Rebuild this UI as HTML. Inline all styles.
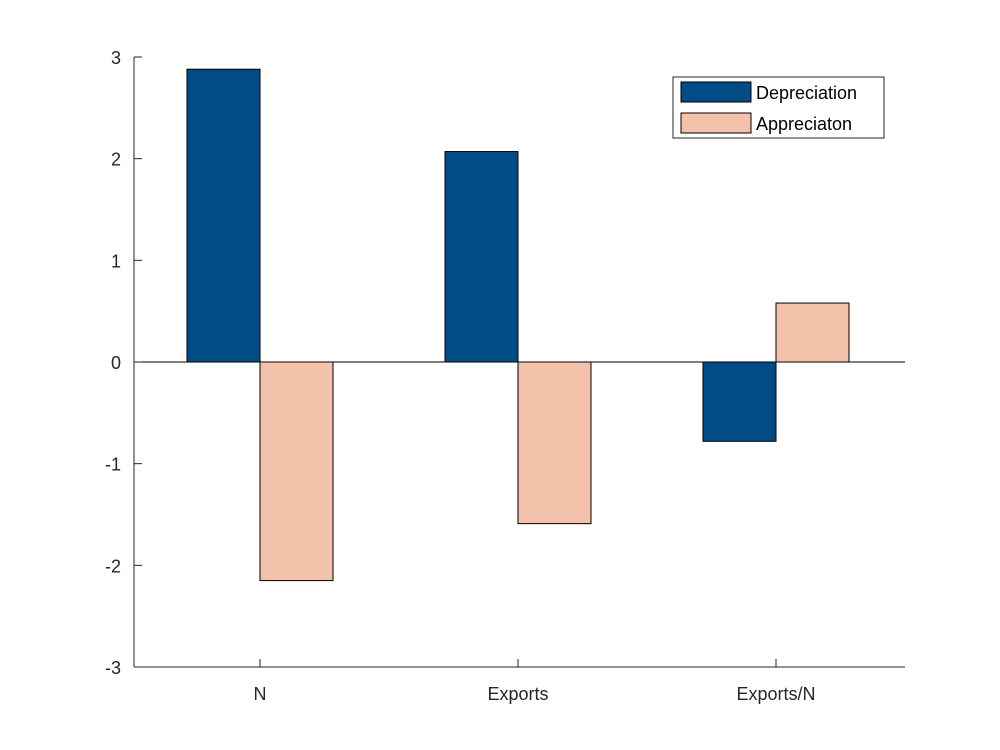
<!DOCTYPE html>
<html><head><meta charset="utf-8"><style>
body{margin:0;background:#fff;}
svg{display:block;font-family:"Liberation Sans",Arial,sans-serif;}
</style></head><body>
<svg id="chart" width="1000" height="750"></svg>
<script>
const categories = ["N", "Exports", "Exports/N"];
const depreciation = [2.88, 2.07, -0.78];
const appreciation = [-2.15, -1.59, 0.58];
const yTicks = [-3, -2, -1, 0, 1, 2, 3];
const seriesNames = ["Depreciation", "Appreciaton"];

const NS = "http://www.w3.org/2000/svg";
const svg = document.getElementById("chart");
const X0 = 134, X1 = 905, Y0 = 667, Y1 = 57;
const yMin = -3, yMax = 3;
function ys(v){ return Y0 - (v - yMin) / (yMax - yMin) * (Y0 - Y1); }
function xs(i){ return 260 + i * 258; }
const bw = 73;
function mk(tag, attrs, parent){
  const e = document.createElementNS(NS, tag);
  for (const k in attrs) e.setAttribute(k, attrs[k]);
  (parent || svg).appendChild(e);
  return e;
}
const colors = ["#004c87", "#f4c2aa"];
[depreciation, appreciation].forEach((series, s) => {
  series.forEach((v, i) => {
    const x = xs(i) + (s === 0 ? -bw : 0);
    const y = Math.min(ys(v), ys(0));
    const r = mk("rect", {x: x, y: y, width: bw, height: Math.abs(ys(v) - ys(0)), fill: colors[s], stroke: "#000", "stroke-width": 1});
    
    
  });
});
const zl = mk("line", {x1: X0, x2: X1, y1: ys(0), y2: ys(0), stroke: "#000", "stroke-width": 1});


const ya = mk("line", {x1: X0, x2: X0, y1: Y1, y2: Y0, stroke: "#262626", "stroke-width": 1});


const xa = mk("line", {x1: X0, x2: X1, y1: Y0, y2: Y0, stroke: "#262626", "stroke-width": 1});


yTicks.forEach(t => {
  mk("line", {x1: X0, x2: X0 + 8, y1: ys(t), y2: ys(t), stroke: "#262626"});
  const tx = mk("text", {x: X0 - 13, y: ys(t) + 7, "text-anchor": "end", "font-size": 18, fill: "#262626"});
  tx.textContent = t;
  
  
});
categories.forEach((c, i) => {
  mk("line", {x1: xs(i), x2: xs(i), y1: Y0, y2: Y0 - 8, stroke: "#262626"});
  const tx = mk("text", {x: xs(i), y: Y0 + 33, "text-anchor": "middle", "font-size": 18, fill: "#262626"});
  tx.textContent = c;
  
  
});
const lg = mk("g", {});


mk("rect", {x: 673, y: 77, width: 211, height: 61, fill: "#fff", stroke: "#262626"}, lg);
seriesNames.forEach((n, s) => {
  const y = 82 + s * 31;
  mk("rect", {x: 681, y: y, width: 70, height: 20, fill: colors[s], stroke: "#000"}, lg);
  const tx = mk("text", {x: 756, y: y + 17, "font-size": 18, fill: "#000"}, lg);
  tx.textContent = n;
  
  
});
</script>
</body></html>
